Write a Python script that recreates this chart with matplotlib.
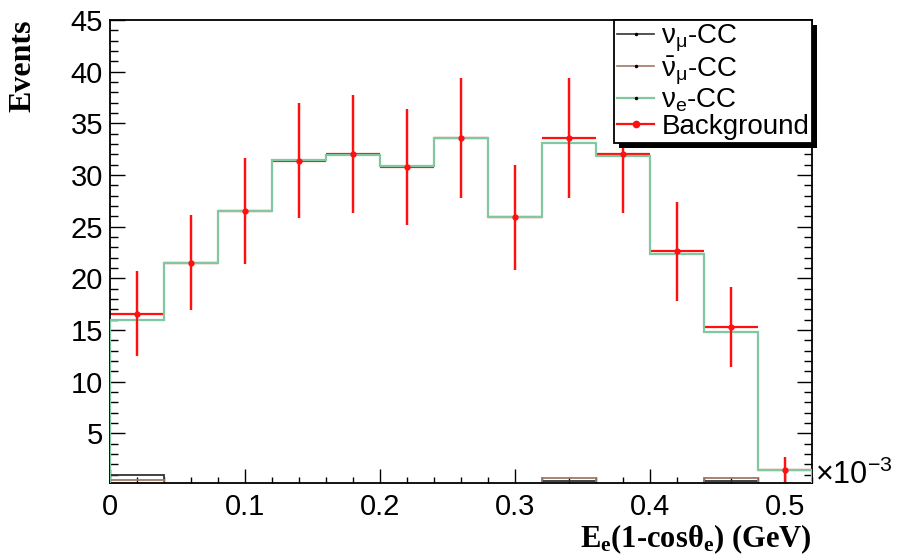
import numpy as np
import matplotlib
matplotlib.use("Agg")
import matplotlib.pyplot as plt
from matplotlib.lines import Line2D
from matplotlib.patches import Rectangle
from matplotlib.ticker import MultipleLocator, FixedLocator

plt.rcParams['font.family'] = ['Liberation Sans', 'DejaVu Sans']
plt.rcParams['mathtext.fontset'] = 'custom'
plt.rcParams['mathtext.rm'] = 'Liberation Sans'
plt.rcParams['mathtext.it'] = 'Liberation Sans:italic'
plt.rcParams['mathtext.sf'] = 'Liberation Sans'
plt.rcParams['mathtext.bf'] = 'Liberation Serif:bold'

# ---- data ----
bin_edges = [0.0, 0.04, 0.08, 0.12, 0.16, 0.20, 0.24, 0.28, 0.32, 0.36, 0.40, 0.44, 0.48, 0.52]
numu_cc = [1.0, 0, 0, 0, 0, 0, 0, 0, 0.35, 0, 0, 0.35, 0]
numubar_cc = [0.5, 0, 0, 0, 0, 0, 0, 0, 0.7, 0, 0, 0.7, 0]
nue_cc = [16.0, 21.5, 26.5, 31.5, 31.9, 30.9, 33.6, 25.9, 33.1, 31.8, 22.4, 14.8, 1.5]
background = [16.6, 21.5, 26.5, 31.4, 32.0, 30.8, 33.6, 25.9, 33.6, 32.0, 22.6, 15.3, 1.5]
background_err = [4.1, 4.6, 5.1, 5.6, 5.7, 5.6, 5.8, 5.1, 5.8, 5.7, 4.8, 3.9, 1.2]

legend_labels = [r'$\mathrm{\nu_{\mu}}$-CC', r'$\mathrm{\bar{\nu}_{\mu}}$-CC',
                 r'$\mathrm{\nu_{e}}$-CC', 'Background']
x_ticks = [0, 0.1, 0.2, 0.3, 0.4, 0.5]
x_ticklabels = ['0', '0.1', '0.2', '0.3', '0.4', '0.5']

c_numu = '#333333'
c_numubar = '#a07868'
c_nue = '#80c8a0'
c_bkg = '#ff1010'

fig = plt.figure(figsize=(8.97, 5.58), dpi=100)
ax = fig.add_axes([110/897, 1-483/558, 702/897, 463/558])

edges = np.array(bin_edges)
centers = 0.5 * (edges[:-1] + edges[1:])
halfw = 0.5 * (edges[1:] - edges[:-1])

ax.stairs(numu_cc, edges, color=c_numu, lw=1.3, zorder=2)
ax.stairs(numubar_cc, edges, color=c_numubar, lw=1.3, zorder=2.1)
ax.errorbar(centers, background, yerr=background_err, xerr=halfw, fmt='none',
            ecolor=c_bkg, elinewidth=1.6, capsize=0, zorder=2.5)
ax.stairs(nue_cc, edges, color=c_nue, lw=1.6, zorder=3)
ax.errorbar(centers, background, yerr=background_err, fmt='o', color=c_bkg,
            ms=3.5, elinewidth=1.6, capsize=0, zorder=4)

ax.set_xlim(0, 0.52)
ax.set_ylim(0.2, 45)

ax.xaxis.set_major_locator(FixedLocator(x_ticks))
ax.set_xticklabels(x_ticklabels)
ax.xaxis.set_minor_locator(MultipleLocator(0.02))
ax.yaxis.set_major_locator(MultipleLocator(5))
ax.yaxis.set_minor_locator(MultipleLocator(1))

ax.tick_params(axis='both', which='both', direction='in', width=1.0, color='black')
ax.tick_params(axis='y', which='major', length=11, labelsize=21, pad=5, right=True)
ax.tick_params(axis='y', which='minor', length=5.5, right=True)
ax.tick_params(axis='x', which='major', length=10, labelsize=21, pad=7)
ax.tick_params(axis='x', which='minor', length=4.5)
for s in ax.spines.values():
    s.set_linewidth(1.3)
    s.set_color('black')

ax.set_ylabel('Events', loc='top', fontfamily='Liberation Serif', fontweight='bold', fontsize=23)
ax.yaxis.set_label_coords(-0.104, 1.0)
ax.set_xlabel(r'$\mathbf{E_{e}(1}$-$\mathbf{cos\theta_{e})}$ (GeV)', loc='right',
              fontfamily='Liberation Serif', fontweight='bold', fontsize=22)
ax.xaxis.set_label_coords(1.0, -0.085)

ax.text(1.004, 0.017, r'$\times$10$^{-3}$', transform=ax.transAxes, fontsize=22,
        ha='left', va='center')

handles = [
    Line2D([], [], color=c_numu, lw=1.2, marker='.', ms=3, mfc='k', mec='k'),
    Line2D([], [], color=c_numubar, lw=1.2, marker='.', ms=3, mfc='k', mec='k'),
    Line2D([], [], color=c_nue, lw=1.6, marker='.', ms=3, mfc='k', mec='k'),
    Line2D([], [], color=c_bkg, lw=1.6, marker='o', ms=4.5),
]
leg = fig.legend(handles, legend_labels, loc='upper right',
                 bbox_to_anchor=(812/897, 1-20/558), bbox_transform=fig.transFigure,
                 fontsize=20, frameon=True, fancybox=False, shadow=False,
                 framealpha=1.0, facecolor='white',
                 borderpad=0.1, labelspacing=0.0, handlelength=1.35,
                 handletextpad=0.25, borderaxespad=0)
leg.get_frame().set_edgecolor('black')
leg.get_frame().set_linewidth(1.3)
leg.set_zorder(6)

fig.canvas.draw()
bb = leg.get_window_extent()
inv = fig.transFigure.inverted()
(x0, y0) = inv.transform((bb.x0 + 5, bb.y0 - 5))
(x1, y1) = inv.transform((bb.x1 + 5, bb.y1 - 5))
shadow = Rectangle((x0, y0), x1 - x0, y1 - y0, transform=fig.transFigure,
                   facecolor='black', edgecolor='none', zorder=5.5)
fig.add_artist(shadow)

fig.savefig('out.png', dpi=100)
